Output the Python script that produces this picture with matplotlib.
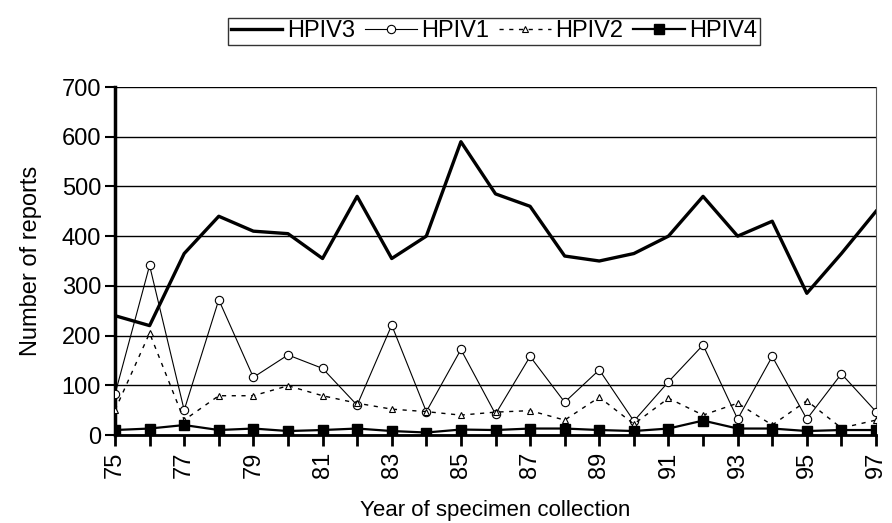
import matplotlib.pyplot as plt
from matplotlib.ticker import MultipleLocator

plt.rcParams['font.family'] = ['Liberation Sans', 'DejaVu Sans']

years = list(range(75, 98))
hpiv3 = [240, 220, 365, 440, 410, 405, 355, 480, 355, 400, 590, 485, 460,
         360, 350, 365, 400, 480, 400, 430, 285, 365, 450]
hpiv1 = [82, 341, 50, 272, 116, 161, 134, 60, 221, 47, 172, 42, 158,
         66, 131, 28, 107, 181, 32, 158, 32, 123, 47]
hpiv2 = [50, 205, 30, 79, 79, 99, 79, 64, 52, 47, 40, 46, 49,
         30, 76, 22, 74, 40, 64, 20, 69, 14, 30]
hpiv4 = [10, 13, 20, 10, 13, 8, 10, 13, 8, 5, 11, 10, 13,
         13, 10, 8, 13, 29, 13, 13, 8, 10, 10]
xtick_labels = [str(y) for y in range(75, 98, 2)]

fig = plt.figure(figsize=(8.92, 5.23), dpi=100)
ax = fig.add_axes([115 / 892, 1 - 435 / 523, (876 - 115) / 892, (435 - 87) / 523])

ax.plot(years, hpiv3, color='black', lw=2.4, label='HPIV3', zorder=5)
ax.plot(years, hpiv1, color='black', lw=0.8, marker='o', ms=6,
        mfc='white', mec='black', mew=0.8, label='HPIV1', zorder=4)
ax.plot(years, hpiv2, color='black', lw=1.0, ls=(0, (3, 4)), marker='^', ms=5,
        mfc='white', mec='black', mew=0.8, label='HPIV2', zorder=4)
ax.plot(years, hpiv4, color='black', lw=1.6, marker='s', ms=7,
        mfc='black', mec='black', label='HPIV4', zorder=6)

ax.set_xlim(75, 97)
ax.set_ylim(0, 700)
ax.yaxis.set_major_locator(MultipleLocator(100))
ax.set_xticks(range(75, 98, 2))
ax.set_xticklabels(xtick_labels, rotation=90)
ax.set_xticks(years, minor=True)
ax.tick_params(axis='x', which='both', direction='out', length=8, width=2, labelsize=17, pad=4)
ax.tick_params(axis='y', direction='out', length=7, width=1.5, labelsize=17, pad=3)
ax.grid(axis='y', color='black', lw=1.0)
ax.set_axisbelow(True)

ax.spines['left'].set_linewidth(2.5)
ax.spines['bottom'].set_linewidth(2.0)
ax.spines['top'].set_visible(False)
ax.spines['right'].set_color('#555555')
ax.spines['right'].set_linewidth(0.8)

ax.set_ylabel('Number of reports', fontsize=17, labelpad=14)
ax.set_xlabel('Year of specimen collection', fontsize=16, labelpad=16)

leg = fig.legend(loc='upper center', bbox_to_anchor=(494 / 892, 1 - 6 / 523), ncol=4,
                 frameon=True, fancybox=False, edgecolor='black', fontsize=17,
                 handlelength=2.2, handletextpad=0.2, columnspacing=0.4,
                 borderpad=0.1)
leg.get_frame().set_linewidth(1.0)

fig.savefig('out.png', dpi=100)
